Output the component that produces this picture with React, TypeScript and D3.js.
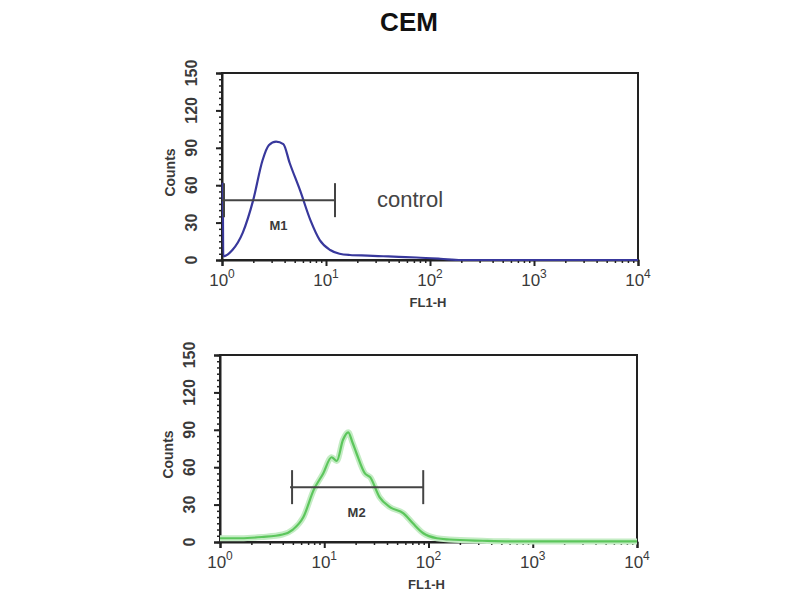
import React, { useRef, useEffect } from 'react'
import * as d3 from 'd3'

// FL1-H readings in log10 units, counts
const controlLog = [0.008, 0.012, 0.1, 0.2, 0.3, 0.39, 0.45, 0.52, 0.59, 0.65, 0.75, 0.85, 0.94, 1.04, 1.13, 1.23, 1.4, 1.55, 1.7, 1.87, 2.1, 2.3, 4]
const controlCounts = [62, 3, 8, 22, 48, 80, 92, 95, 93, 78, 56, 32, 16, 8, 5, 4, 3.5, 3, 2.5, 2, 1, 0, 0]

const sampleLog = [0, 0.2, 0.4, 0.6, 0.7, 0.8, 0.9, 0.99, 1.07, 1.12, 1.18, 1.23, 1.27, 1.31, 1.39, 1.44, 1.53, 1.63, 1.76, 1.85, 1.95, 2.08, 2.2, 2.52, 2.8, 4]
const sampleCounts = [3, 3, 4, 6, 10, 20, 42, 55, 68, 65, 82, 88, 80, 71, 55, 52, 36, 28, 23, 15, 7, 3, 2, 1, 0.5, 0.5]

const decades = [0, 1, 2, 3, 4]
const countTicks = [0, 30, 60, 90, 120, 150]

const panels = [
    { key: 'control', log: controlLog, counts: controlCounts, color: '#38389c', glow: null, marker: { name: 'M1', from: 1, to: 12.2, level: 48 }, note: 'control', box: { l: 222, r: 638, t: 73, b: 260 } },
    { key: 'sample', log: sampleLog, counts: sampleCounts, color: '#5cc65c', glow: '#c4ecc4', marker: { name: 'M2', from: 4.7, to: 89, level: 44 }, note: null, box: { l: 220, r: 637, t: 355, b: 542 } },
]

export default function App() {
    const svg_ref = useRef(null)
    useEffect(() => draw(svg_ref.current), [])
    return (
        <svg ref={svg_ref} width={800} height={600} style={{ position: 'absolute', left: 0, top: 0, background: '#fff' }}></svg>
    )
}

function draw(node) {
    const svg = d3.select(node)
    svg.selectAll('*').remove()
    const font = 'Liberation Sans, Arial, sans-serif'

    svg.append('text')
        .attr('x', 409).attr('y', 31)
        .attr('text-anchor', 'middle')
        .style('font-family', font).style('font-weight', 'bold').style('font-size', '26px')
        .attr('fill', '#111')
        .text('CEM')

    panels.forEach(p => {
        const b = p.box
        const g = svg.append('g')
        const x = d3.scaleLinear().domain([0, 4]).range([b.l, b.r])
        const y = d3.scaleLinear().domain([0, 150]).range([b.b, b.t])

        // frame
        g.append('rect')
            .attr('x', b.l).attr('y', b.t)
            .attr('width', b.r - b.l).attr('height', b.b - b.t)
            .attr('fill', 'none').attr('stroke', '#222').attr('stroke-width', 2)

        // y minor ticks
        const yMinor = d3.axisLeft(y).tickValues(d3.range(0, 151, 5)).tickSize(3).tickFormat(() => '')
        g.append('g').attr('transform', `translate(${b.l},0)`).call(yMinor)
            .call(a => a.select('.domain').remove())
            .selectAll('line').attr('stroke', '#222').attr('stroke-width', 1.5)

        const yAxis = d3.axisLeft(y).tickValues(countTicks).tickSize(6).tickFormat(() => '')
        g.append('g').attr('transform', `translate(${b.l},0)`).call(yAxis)
            .call(a => a.select('.domain').attr('stroke', '#222').attr('stroke-width', 2))
            .selectAll('line').attr('stroke', '#222').attr('stroke-width', 2)

        countTicks.forEach(t => {
            g.append('text')
                .attr('transform', `translate(${b.l - 31},${y(t)}) rotate(-90)`)
                .attr('text-anchor', 'middle').attr('dy', '0.35em')
                .style('font-family', font).style('font-size', '16px').style('font-weight', 'bold')
                .attr('fill', '#3a3a3a')
                .text(t)
        })

        g.append('text')
            .attr('transform', `translate(${b.l - 52},${(b.t + b.b) / 2 + 6}) rotate(-90)`)
            .attr('text-anchor', 'middle').attr('dy', '0.35em')
            .style('font-family', font).style('font-size', '14px').style('font-weight', 'bold')
            .attr('fill', '#3a3a3a')
            .text('Counts')

        // x log minor ticks
        const minor = []
        for (let d = 0; d < 4; d++) for (let k = 2; k < 10; k++) minor.push(d + Math.log10(k))
        const xMinor = d3.axisBottom(x).tickValues(minor).tickSize(3).tickFormat(() => '')
        g.append('g').attr('transform', `translate(0,${b.b})`).call(xMinor)
            .call(a => a.select('.domain').remove())
            .selectAll('line').attr('stroke', '#222').attr('stroke-width', 1.5)

        const xAxis = d3.axisBottom(x).tickValues(decades).tickSize(6).tickFormat(() => '')
        g.append('g').attr('transform', `translate(0,${b.b})`).call(xAxis)
            .call(a => a.select('.domain').attr('stroke', '#222').attr('stroke-width', 2))
            .selectAll('line').attr('stroke', '#222').attr('stroke-width', 2)

        decades.forEach(d => {
            const t = g.append('text')
                .attr('x', x(d)).attr('y', b.b + 26)
                .attr('text-anchor', 'middle')
                .style('font-family', font).style('font-size', '17px')
                .attr('fill', '#3a3a3a')
            t.append('tspan').text('10')
            t.append('tspan').attr('dy', -8).style('font-size', '12px').text(d)
        })

        g.append('text')
            .attr('x', (b.l + b.r) / 2 - 2).attr('y', b.b + 47)
            .attr('text-anchor', 'middle')
            .style('font-family', font).style('font-size', '13px').style('font-weight', 'bold')
            .attr('fill', '#3a3a3a')
            .text('FL1-H')

        // histogram
        const pts = p.log.map((v, i) => [v, p.counts[i]])
        const line = d3.line().x(d => x(d[0])).y(d => y(d[1])).curve(d3.curveMonotoneX)
        if (p.glow) {
            g.append('path').attr('d', line(pts)).attr('fill', 'none')
                .attr('stroke', p.glow).attr('stroke-width', 6).attr('stroke-linejoin', 'round')
        }
        g.append('path').attr('d', line(pts)).attr('fill', 'none')
            .attr('stroke', p.color).attr('stroke-width', 2.2).attr('stroke-linejoin', 'round')

        // marker
        const m = p.marker
        const x1 = x(Math.log10(m.from)), x2 = x(Math.log10(m.to)), my = y(m.level)
        const mg = g.append('g').attr('stroke', '#444').attr('stroke-width', 2)
        mg.append('line').attr('x1', x1).attr('x2', x2).attr('y1', my).attr('y2', my)
        mg.append('line').attr('x1', x1 + 2).attr('x2', x1 + 2).attr('y1', my - 17).attr('y2', my + 17)
        mg.append('line').attr('x1', x2).attr('x2', x2).attr('y1', my - 17).attr('y2', my + 17)
        g.append('text')
            .attr('x', (x1 + x2) / 2).attr('y', my + 30)
            .attr('text-anchor', 'middle')
            .style('font-family', font).style('font-size', '13px').style('font-weight', 'bold')
            .attr('fill', '#3a3a3a')
            .text(m.name)

        if (p.note) {
            g.append('text')
                .attr('x', 377).attr('y', my + 7)
                .style('font-family', font).style('font-size', '22px')
                .attr('fill', '#444')
                .text(p.note)
        }
    })
}
